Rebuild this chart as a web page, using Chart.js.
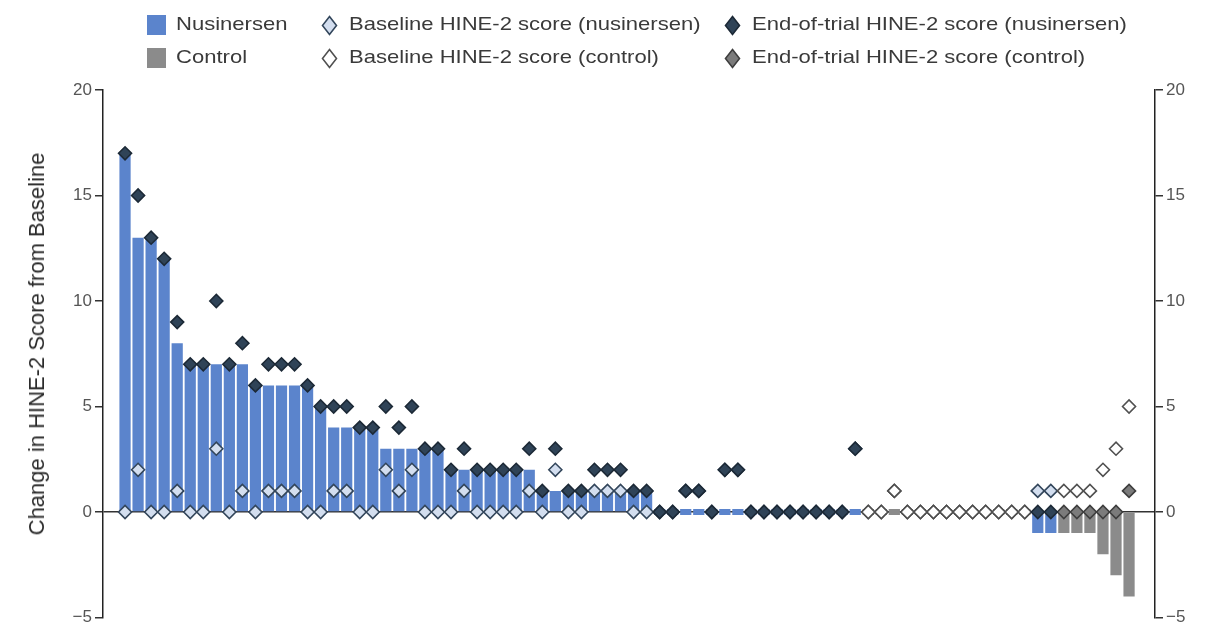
<!DOCTYPE html>
<html>
<head>
<meta charset="utf-8">
<title>HINE-2 waterfall</title>
<script src="https://cdn.jsdelivr.net/npm/chart.js@4.4.1/dist/chart.umd.min.js"></script>
<style>
    body { margin: 0; background: #fff; }
    #wrap { position: relative; width: 1205px; height: 629px; font-family: 'Liberation Sans', Arial, sans-serif; }
    #chart { position: absolute; left: 0; top: 0; }
    .lg-text { position: absolute; font-size: 19px; line-height: 22px; color: #3a3a3a; white-space: nowrap; transform-origin: left center; transform: scaleX(1.16); }
    .lg-mark { position: absolute; }
    #ytitle { position: absolute; left: 37px; top: 344px; transform: translate(-50%, -50%) rotate(-90deg); font-size: 22px; color: #2b2b2b; white-space: nowrap; }
</style>
</head>
<body>
<div id="wrap">
    <canvas id="chart" width="1205" height="629"></canvas>
    <div id="legend"></div>
    <div id="ytitle">Change in HINE-2 Score from Baseline</div>
</div>
<script>
// one entry per infant, sorted by change (N = nusinersen, C = control)
const group = [
    'N','N','N','N','N','N','N','N','N','N','N','N','N','N','N','N','N','N','N','N',
    'N','N','N','N','N','N','N','N','N','N','N','N','N','N','N','N','N','N','N','N',
    'N','N','N','N','N','N','N','N','N','N','N','N','N','N','N','N','N',
    'C','C','C','C','C','C','C','C','C','C','C','C','C',
    'N','N',
    'C','C','C','C','C','C'
];
const change = [
    17, 13, 13, 12, 8, 7, 7, 7, 7, 7,
    6, 6, 6, 6, 6, 5, 4, 4, 4, 4,
    3, 3, 3, 3, 3, 2, 2, 2, 2, 2,
    2, 2, 1, 1, 1, 1, 1, 1, 1, 1,
    1, 0, 0, 0, 0, 0, 0, 0, 0, 0,
    0, 0, 0, 0, 0, 0, 0, 0, 0, 0,
    0, 0, 0, 0, 0, 0, 0, 0, 0, 0,
    -1, -1, -1, -1, -1, -2, -3, -4
];
const baseline = [
    0, 2, 0, 0, 1, 0, 0, 3, 0, 1,
    0, 1, 1, 1, 0, 0, 1, 1, 0, 0,
    2, 1, 2, 0, 0, 0, 1, 0, 0, 0,
    0, 1, 0, 2, 0, 0, 1, 1, 1, 0,
    0, 0, 0, 1, 1, 0, 2, 2, 0, 0,
    0, 0, 0, 0, 0, 0, 3, 0, 0, 1,
    0, 0, 0, 0, 0, 0, 0, 0, 0, 0,
    1, 1, 1, 1, 1, 2, 3, 5
];
const endScore = [
    17, 15, 13, 12, 9, 7, 7, 10, 7, 8,
    6, 7, 7, 7, 6, 5, 5, 5, 4, 4,
    5, 4, 5, 3, 3, 2, 3, 2, 2, 2,
    2, 3, 1, 3, 1, 1, 2, 2, 2, 1,
    1, 0, 0, 1, 1, 0, 2, 2, 0, 0,
    0, 0, 0, 0, 0, 0, 3, 0, 0, 1,
    0, 0, 0, 0, 0, 0, 0, 0, 0, 0,
    0, 0, 0, 0, 0, 0, 0, 1
];
const yTicks = [-5, 0, 5, 10, 15, 20];

const COLORS = {
    nusBar: '#5b84cc',
    ctrlBar: '#8b8b8b',
    nusBaseFill: '#d3deef', nusBaseLine: '#33465b',
    nusEndFill: '#2f4357', nusEndLine: '#1c2936',
    ctrlBaseFill: '#ffffff', ctrlBaseLine: '#505050',
    ctrlEndFill: '#7b7b7b', ctrlEndLine: '#3e3e3e'
};

const legendItems = [
    { row: 0, x: 147, kind: 'square', color: COLORS.nusBar, text: 'Nusinersen' },
    { row: 0, x: 321, kind: 'diamond', fill: COLORS.nusBaseFill, line: COLORS.nusBaseLine, text: 'Baseline HINE-2 score (nusinersen)' },
    { row: 0, x: 724, kind: 'diamond', fill: COLORS.nusEndFill, line: COLORS.nusEndLine, text: 'End-of-trial HINE-2 score (nusinersen)' },
    { row: 1, x: 147, kind: 'square', color: COLORS.ctrlBar, text: 'Control' },
    { row: 1, x: 321, kind: 'diamond', fill: COLORS.ctrlBaseFill, line: COLORS.ctrlBaseLine, text: 'Baseline HINE-2 score (control)' },
    { row: 1, x: 724, kind: 'diamond', fill: COLORS.ctrlEndFill, line: COLORS.ctrlEndLine, text: 'End-of-trial HINE-2 score (control)' }
];

function buildLegend() {
    const box = document.getElementById('legend');
    const rowY = [25, 58];
    legendItems.forEach(item => {
        const cy = rowY[item.row];
        const mark = document.createElement('div');
        mark.className = 'lg-mark';
        let textLeft;
        if (item.kind === 'square') {
            mark.style.left = item.x + 'px';
            mark.style.top = (cy - 10) + 'px';
            mark.style.width = '19px';
            mark.style.height = '20px';
            mark.style.background = item.color;
            textLeft = item.x + 29;
        } else {
            mark.style.left = item.x + 'px';
            mark.style.top = (cy - 10) + 'px';
            mark.innerHTML = `<svg width="17" height="21"><polygon points="8.5,1.5 15.5,10.5 8.5,19.5 1.5,10.5" fill="${item.fill}" stroke="${item.line}" stroke-width="1.6"/></svg>`;
            textLeft = item.x + 28;
        }
        box.appendChild(mark);
        const t = document.createElement('div');
        t.className = 'lg-text';
        t.style.left = textLeft + 'px';
        t.style.top = (cy - 12) + 'px';
        t.textContent = item.text;
        box.appendChild(t);
    });
}

function points(values, wanted) {
    const out = [];
    values.forEach((v, i) => {
        if (group[i] === wanted) out.push({ x: i, y: v });
    });
    return out;
}

function diamondSet(data, fill, line, order) {
    return {
        type: 'line',
        data: data,
        showLine: false,
        pointStyle: 'rectRot',
        pointRadius: 6.5,
        pointBorderWidth: 1.6,
        pointBackgroundColor: fill,
        pointBorderColor: line,
        order: order
    };
}

function yAxis(position, width) {
    return {
        type: 'linear',
        position: position,
        min: yTicks[0],
        max: yTicks[yTicks.length - 1],
        afterBuildTicks: scale => { scale.ticks = yTicks.map(v => ({ value: v })); },
        ticks: {
            color: '#555',
            padding: 3,
            font: { family: "'Liberation Sans', Arial, sans-serif", size: 17, lineHeight: 1 },
            callback: v => String(v).replace('-', '\u2212')
        },
        grid: {
            drawOnChartArea: position === 'left',
            color: ctx => (ctx.tick && ctx.tick.value === 0) ? '#333' : 'rgba(0,0,0,0)',
            lineWidth: 1.5,
            tickColor: '#333',
            tickLength: 8,
            tickWidth: 1.5
        },
        border: { display: true, color: '#222', width: 1.5 },
        afterFit: scale => { scale.width = width; }
    };
}

function drawChart() {
    const ctx = document.getElementById('chart').getContext('2d');
    new Chart(ctx, {
        type: 'bar',
        data: {
            datasets: [
                {
                    type: 'bar',
                    data: change.map((v, i) => ({ x: i, y: v })),
                    backgroundColor: group.map(g => g === 'N' ? COLORS.nusBar : COLORS.ctrlBar),
                    barPercentage: 0.86,
                    categoryPercentage: 1,
                    minBarLength: 6,
                    order: 10
                },
                diamondSet(points(baseline, 'N'), COLORS.nusBaseFill, COLORS.nusBaseLine, 2),
                diamondSet(points(endScore, 'N'), COLORS.nusEndFill, COLORS.nusEndLine, 1),
                diamondSet(points(endScore, 'C'), COLORS.ctrlEndFill, COLORS.ctrlEndLine, 2),
                diamondSet(points(baseline, 'C'), COLORS.ctrlBaseFill, COLORS.ctrlBaseLine, 1)
            ]
        },
        options: {
            responsive: false,
            animation: false,
            layout: { padding: { top: 90, bottom: 9, left: 0, right: 0 } },
            scales: {
                x: { type: 'linear', min: -1.69, max: 78.99, offset: false, display: false },
                y: yAxis('left', 103),
                y2: yAxis('right', 50)
            },
            plugins: {
                legend: { display: false },
                tooltip: { enabled: false }
            }
        }
    });
}

document.addEventListener('DOMContentLoaded', function() {
    buildLegend();
    drawChart();
});
</script>
</body>
</html>
